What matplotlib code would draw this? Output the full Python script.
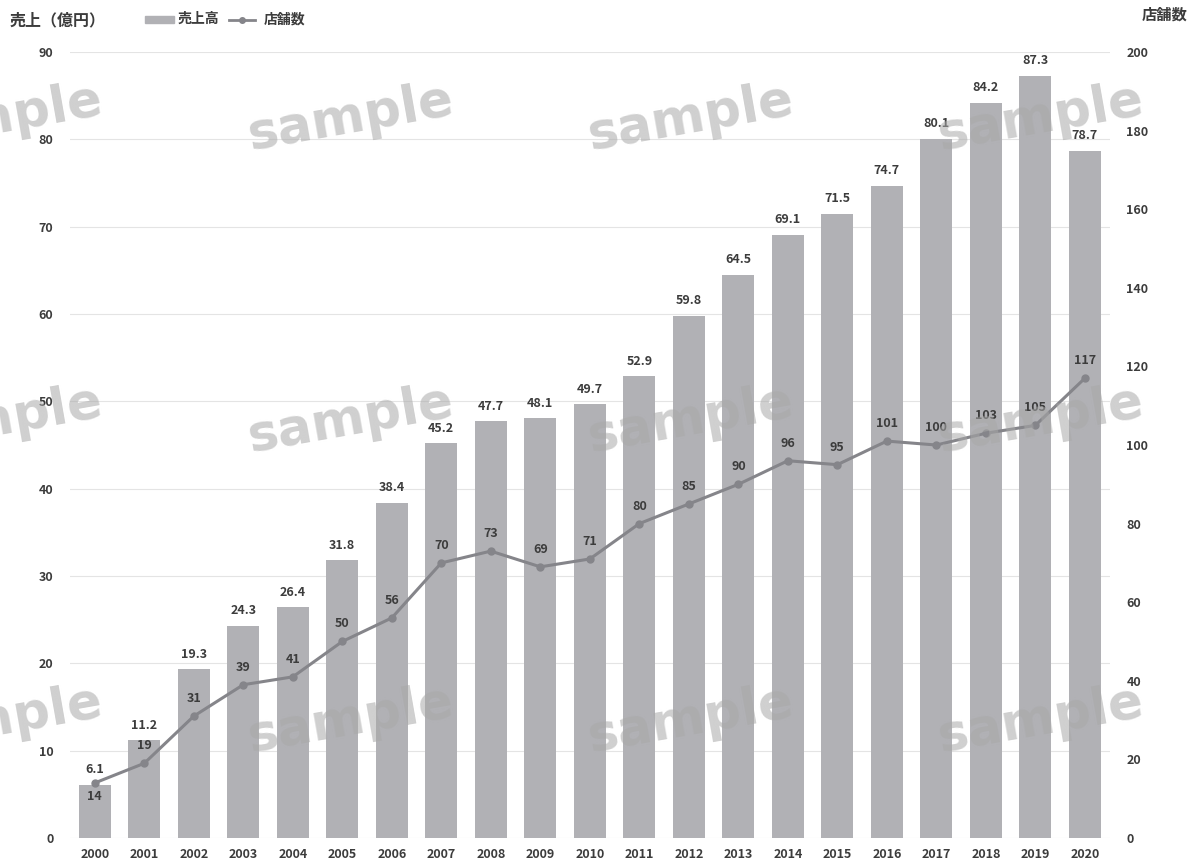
import matplotlib.pyplot as plt
import numpy as np

plt.rcParams['font.family'] = ['Noto Sans CJK JP', 'DejaVu Sans']

# data
years = [str(y) for y in range(2000, 2021)]
sales = [6.1, 11.2, 19.3, 24.3, 26.4, 31.8, 38.4, 45.2, 47.7, 48.1, 49.7,
         52.9, 59.8, 64.5, 69.1, 71.5, 74.7, 80.1, 84.2, 87.3, 78.7]
stores = [14, 19, 31, 39, 41, 50, 56, 70, 73, 69, 71,
          80, 85, 90, 96, 95, 101, 100, 103, 105, 117]

bar_color = '#b1b1b5'
line_color = '#85858a'
text_color = '#3c3c3c'

fig = plt.figure(figsize=(11.97, 8.68), dpi=100)
ax = fig.add_axes([0.0585, 0.0346, 0.8685, 0.9054])
ax2 = ax.twinx()

x = np.arange(len(years))
ax.bar(x, sales, width=0.65, color=bar_color, zorder=2)
ax.set_ylim(0, 90)
ax.set_yticks(range(0, 91, 10))
ax.set_xlim(-0.5, len(years) - 0.5)
ax.set_xticks(x)
ax.set_xticklabels(years)
ax.grid(axis='y', color='#e4e4e4', linewidth=0.8, zorder=0)
ax.set_axisbelow(True)

for xi, v in zip(x, sales):
    ax.annotate(f'{v}', (xi, v), xytext=(0, 6), textcoords='offset points',
                ha='center', va='bottom', fontsize=9, fontweight='bold',
                color=text_color, zorder=5)

ax2.plot(x, stores, color=line_color, linewidth=2.2, marker='o', markersize=5, zorder=3)
ax2.set_ylim(0, 200)
ax2.set_yticks(range(0, 201, 20))
for i, (xi, v) in enumerate(zip(x, stores)):
    dy = -10 if i == 0 else 8
    ax2.annotate(f'{v}', (xi, v), xytext=(0, dy), textcoords='offset points',
                 ha='center', va='center' if i == 0 else 'bottom', fontsize=9,
                 fontweight='bold', color=text_color, zorder=5)

for a in (ax, ax2):
    for s in a.spines.values():
        s.set_visible(False)
    a.tick_params(length=0, labelsize=9, colors=text_color)
    for lab in a.get_xticklabels() + a.get_yticklabels():
        lab.set_fontweight('bold')
ax.tick_params(axis='y', pad=12)
ax2.tick_params(axis='y', pad=12)
ax.tick_params(axis='x', pad=7)

# titles and legend
fig.text(0.008, 0.977, '売上（億円）', fontsize=11.5, fontweight='bold', color=text_color, va='center')
fig.text(0.992, 0.983, '店舗数', fontsize=11, fontweight='bold', color=text_color, va='center', ha='right')
fig.patches.append(plt.Rectangle((0.121, 0.973), 0.024, 0.008, transform=fig.transFigure,
                                 color=bar_color, figure=fig))
fig.text(0.148, 0.978, '売上高', fontsize=10, fontweight='bold', color=text_color, va='center')
fig.lines.append(plt.Line2D([0.191, 0.202, 0.213], [0.977, 0.977, 0.977],
                            transform=fig.transFigure, color=line_color, linewidth=2,
                            marker='o', markersize=4, markevery=[1], figure=fig))
fig.text(0.220, 0.978, '店舗数', fontsize=10, fontweight='bold', color=text_color, va='center')

# watermark
for fy in (0.864, 0.516, 0.17):
    for fx in (0.0, 0.293, 0.577, 0.869):
        fig.text(fx, fy, 'sample', fontsize=37, fontweight='bold', color='#a8a8a8',
                 alpha=0.55, rotation=10, ha='center', va='center',
                 family='DejaVu Sans', zorder=10)

fig.savefig('out.png', dpi=100)
